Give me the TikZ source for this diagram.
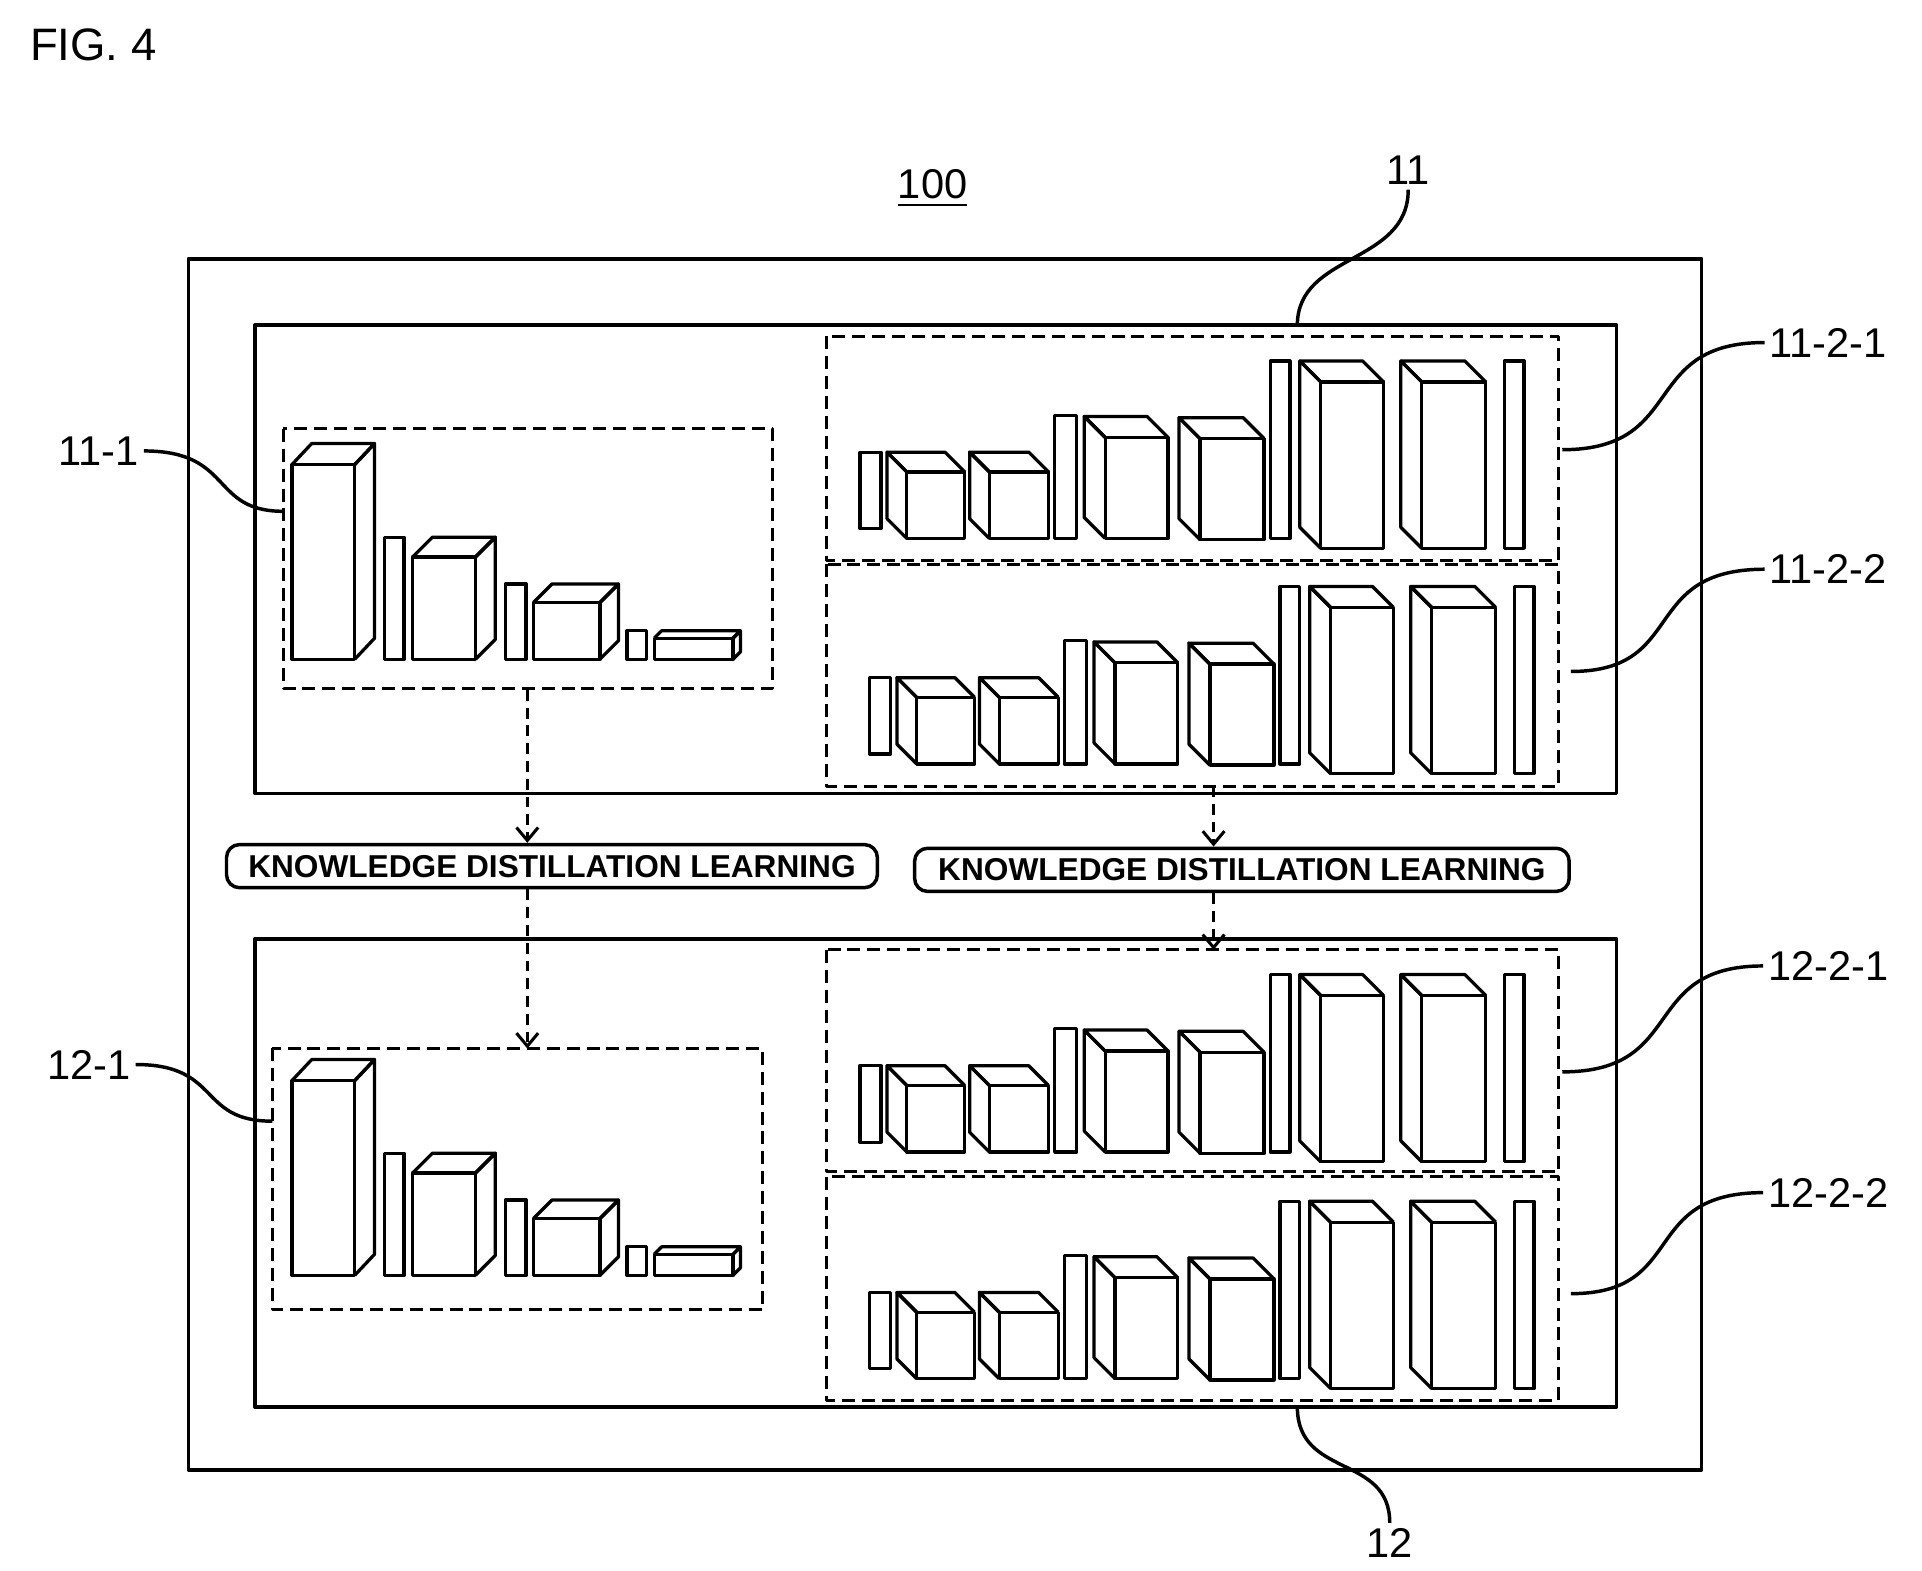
\documentclass[tikz,border=0pt]{standalone}
\usepackage{fontspec}
\setmainfont{Liberation Sans}
\usetikzlibrary{arrows.meta}
\newcommand\cubeL[6]{\begin{scope}[shift={(#1,#2)}]
\draw (0,0) rectangle (#3,#4);
\draw (0,0) -- ++(#5,#6) -- ++(#3,0) -- (#3,0);
\draw (0,0) -- ++(#5,#6) -- ++(0,#4) -- (0,#4);
\end{scope}}
\newcommand\cubeR[6]{\begin{scope}[shift={(#1,#2)}]
\draw (0,0) rectangle (#3,#4);
\draw (0,0) -- ++(#5,#6) -- ++(#3,0) -- (#3,0);
\draw (#3,0) -- ++(#5,#6) -- ++(0,#4) -- (#3,#4);
\end{scope}}
\newcommand\barr[4]{\draw (#1,#2) rectangle ++(#3,#4);}
\newcommand\rowB[2]{\begin{scope}[shift={(#1,#2)}]
\barr{698}{367}{17}{62}
\cubeL{736}{383}{47}{54}{-16}{-16}
\cubeL{803}{383}{48}{54}{-16}{-16}
\barr{856}{337}{18}{100}
\cubeL{897}{355}{51}{82}{-17}{-17}
\cubeL{974}{356}{52}{82}{-17}{-17}
\barr{1031}{293}{16}{144}
\cubeL{1072}{310}{51}{135}{-17}{-17}
\cubeL{1154}{310}{52}{135}{-17}{-17}
\barr{1221}{293}{16}{152}
\end{scope}}
\newcommand\rowA[2]{\begin{scope}[shift={(#1,#2)}]
\cubeR{237}{377}{51}{158}{16}{-17}
\barr{312}{436}{16}{99}
\cubeR{335}{452}{51}{83}{16}{-16}
\barr{410}{474}{17}{61}
\cubeR{433}{489}{54}{46}{15}{-15}
\barr{509}{512}{16}{23}
\cubeR{531}{518}{64}{17}{6}{-6}
\end{scope}}
\begin{document}
\begin{tikzpicture}[x=0.01cm,y=-0.01cm,line join=round,
  blk/.style={line width=0.75pt},
  box/.style={line width=0.9pt},
  dbox/.style={line width=0.7pt,dash pattern=on 3pt off 1.6pt},
  lbl/.style={font=\fontsize{9.6}{11}\selectfont,inner sep=1pt},
  kdl/.style={draw,line width=0.8pt,rounded corners=3pt,minimum height=0.35cm,inner sep=0pt,font=\bfseries\fontsize{7.3}{8}\selectfont},
  lead/.style={line width=0.8pt},
  darr/.style={line width=0.7pt,dash pattern=on 2.5pt off 1.6pt,-{Straight Barb[length=3pt,width=5pt]}}]
\useasboundingbox (0,0) rectangle (1560,1275);
\node[anchor=west,font=\fontsize{10.5}{12}\selectfont] (fig) at (12,36) {FIG. 4};
\node[lbl] (n100) at (757,153) {\underline{100}};
\draw[box] (153,210) rectangle (1381,1193);
\draw[box] (207,264) rectangle (1312,644);
\draw[box] (207,762) rectangle (1312,1142);
% dashed groups
\draw[dbox] (230,348) rectangle (627,559);
\draw[dbox] (671,273) rectangle (1265,455);
\draw[dbox] (671,458) rectangle (1265,638);
\draw[dbox] (221,851) rectangle (619,1063);
\draw[dbox] (671,771) rectangle (1265,951);
\draw[dbox] (671,955) rectangle (1265,1137);
\begin{scope}[blk]
\rowA{0}{0}
\rowA{0}{500}
\rowB{0}{0}
\rowB{8}{183}
\rowB{0}{498}
\rowB{8}{682}
\end{scope}
% KDL labels
\node[kdl,minimum width=5.28cm] (k1) at (448,703) {KNOWLEDGE DISTILLATION LEARNING};
\node[kdl,minimum width=5.31cm] (k2) at (1008,706) {KNOWLEDGE DISTILLATION LEARNING};
\coordinate (a1) at (428,560);
\coordinate (a2) at (428,851);
\coordinate (b1) at (985,638);
\coordinate (b2) at (985,771);
\draw[darr] (a1) -- (a1 |- k1.north);
\draw[darr] (a1 |- k1.south) -- (a2);
\draw[darr] (b1) -- (b1 |- k2.north);
\draw[darr] (b1 |- k2.south) -- (b2);
% labels and leaders
\node[lbl] (l11) at (1143,138) {11};
\node[lbl] (l12) at (1128,1252) {12};
\node[lbl] (l111) at (80,366) {11-1};
\node[lbl] (l121) at (72,864) {12-1};
\node[lbl] (l1121) at (1484,278) {11-2-1};
\node[lbl] (l1122) at (1484,462) {11-2-2};
\node[lbl] (l1221) at (1484,784) {12-2-1};
\node[lbl] (l1222) at (1484,968) {12-2-2};
\begin{scope}[lead]
\draw (l11.south) .. controls (1143,215) and (1053,205) .. (1053,264);
\draw (1053,1142) .. controls (1053,1200) and (1128,1180) .. (l12.north);
\draw (l111.east) .. controls (190,366) and (170,415) .. (230,415);
\draw (l121.east) .. controls (180,864) and (160,910) .. (221,910);
\draw (1268,365) .. controls (1370,365) and (1330,278) .. (l1121.west);
\draw (1275,545) .. controls (1370,545) and (1330,462) .. (l1122.west);
\draw (1268,870) .. controls (1370,870) and (1330,784) .. (l1221.west);
\draw (1275,1050) .. controls (1370,1050) and (1330,968) .. (l1222.west);
\end{scope}
\end{tikzpicture}
\end{document}
